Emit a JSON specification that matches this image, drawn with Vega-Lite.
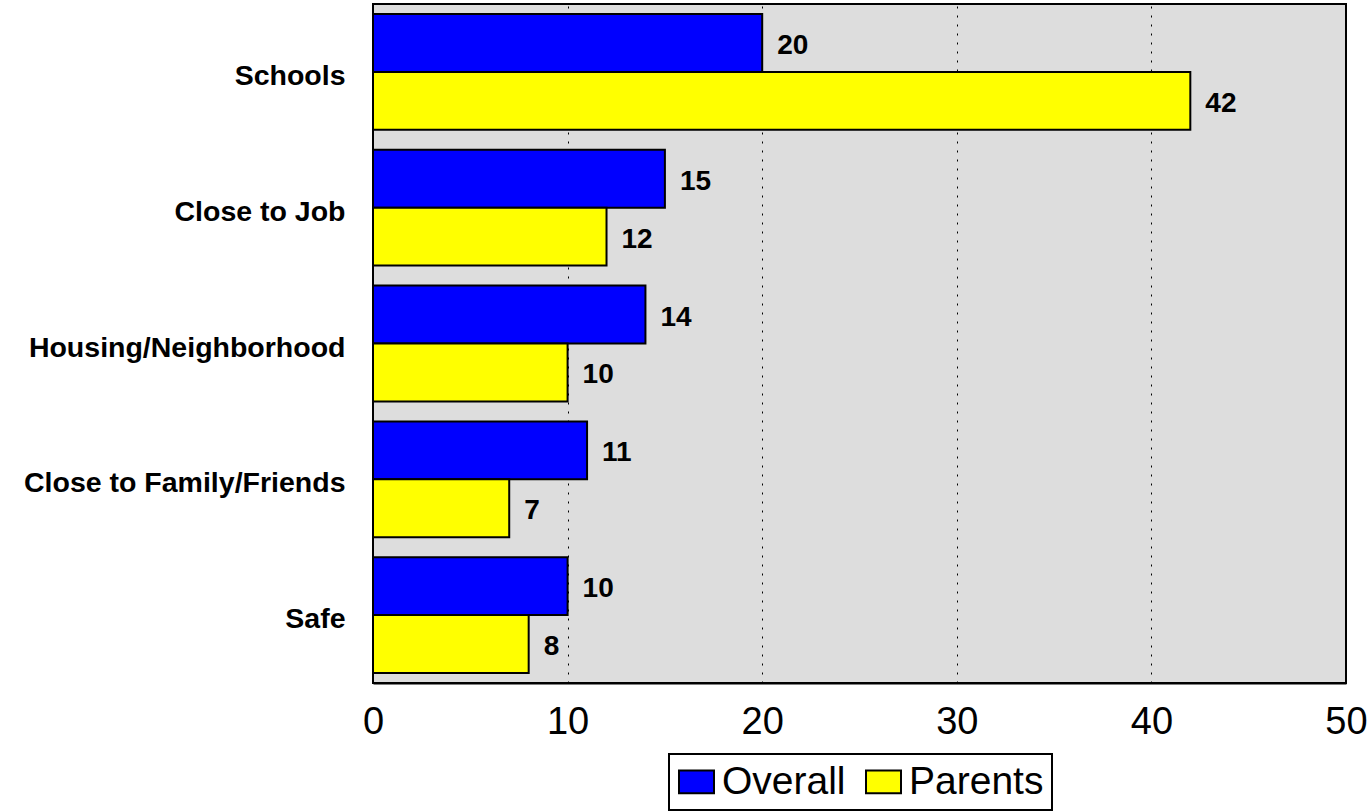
{
  "$schema": "https://vega.github.io/schema/vega-lite/v6.json",
  "width": 973,
  "height": 679,
  "autosize": {"type": "none"},
  "padding": {"left": 373, "top": 4, "right": 24, "bottom": 128},
  "background": "white",
  "config": {
    "font": "Liberation Sans",
    "view": {"fill": "#DDDDDD", "stroke": "black", "strokeWidth": 2},
    "legend": {"strokeWidth": 2}
  },
  "data": {
    "values": [
      {"category": "Schools", "series": "Overall", "value": 20},
      {"category": "Schools", "series": "Parents", "value": 42},
      {"category": "Close to Job", "series": "Overall", "value": 15},
      {"category": "Close to Job", "series": "Parents", "value": 12},
      {"category": "Housing/Neighborhood", "series": "Overall", "value": 14},
      {"category": "Housing/Neighborhood", "series": "Parents", "value": 10},
      {"category": "Close to Family/Friends", "series": "Overall", "value": 11},
      {"category": "Close to Family/Friends", "series": "Parents", "value": 7},
      {"category": "Safe", "series": "Overall", "value": 10},
      {"category": "Safe", "series": "Parents", "value": 8}
    ]
  },
  "encoding": {
    "y": {
      "field": "category",
      "type": "nominal",
      "sort": ["Schools", "Close to Job", "Housing/Neighborhood", "Close to Family/Friends", "Safe"],
      "scale": {"paddingInner": 0.147, "paddingOuter": 0.0735},
      "axis": {
        "title": null,
        "ticks": false,
        "domain": false,
        "labelFont": "Liberation Sans",
        "labelFontSize": 28.5,
        "labelFontWeight": "bold",
        "labelColor": "black",
        "labelPadding": 28,
        "labelOffset": 4,
        "labelLimit": 400
      }
    },
    "yOffset": {"field": "series", "type": "nominal", "sort": ["Overall", "Parents"], "scale": {"paddingInner": 0, "paddingOuter": 0}},
    "x": {
      "field": "value",
      "type": "quantitative",
      "scale": {"domain": [0, 50], "nice": false},
      "axis": {
        "title": null,
        "values": [0, 10, 20, 30, 40, 50],
        "grid": true,
        "gridColor": "black",
        "gridDash": [2, 7],
        "gridWidth": 1,
        "gridOpacity": 1,
        "domain": true,
        "domainColor": "black",
        "domainWidth": 2,
        "ticks": false,
        "labelFont": "Liberation Sans",
        "labelFontSize": 38,
        "labelColor": "black",
        "labelPadding": 20,
        "labelFlush": false
      }
    }
  },
  "layer": [
    {
      "mark": {"type": "bar", "stroke": "black", "strokeWidth": 2},
      "encoding": {
        "color": {
          "field": "series",
          "type": "nominal",
          "scale": {"domain": ["Overall", "Parents"], "range": ["#0000FF", "#FFFF00"]},
          "legend": {
            "title": null,
            "orient": "none",
            "legendX": 296,
            "legendY": 750,
            "direction": "horizontal",
            "labelFont": "Liberation Sans",
            "labelFontSize": 39,
            "labelColor": "black",
            "symbolType": "M-1,-0.65H1V0.65H-1Z",
            "symbolSize": 1225,
            "symbolStrokeColor": "black",
            "symbolStrokeWidth": 2,
            "symbolOpacity": 1,
            "strokeColor": "black",
            "fillColor": "white",
            "padding": 8,
            "columnPadding": 16,
            "labelOffset": 6,
            "labelLimit": 300
          }
        }
      }
    },
    {
      "mark": {"type": "text", "align": "left", "baseline": "middle", "dx": 15, "dy": 3, "fontSize": 28, "fontWeight": "bold", "color": "black", "font": "Liberation Sans"},
      "encoding": {"text": {"field": "value", "type": "quantitative"}}
    }
  ]
}
